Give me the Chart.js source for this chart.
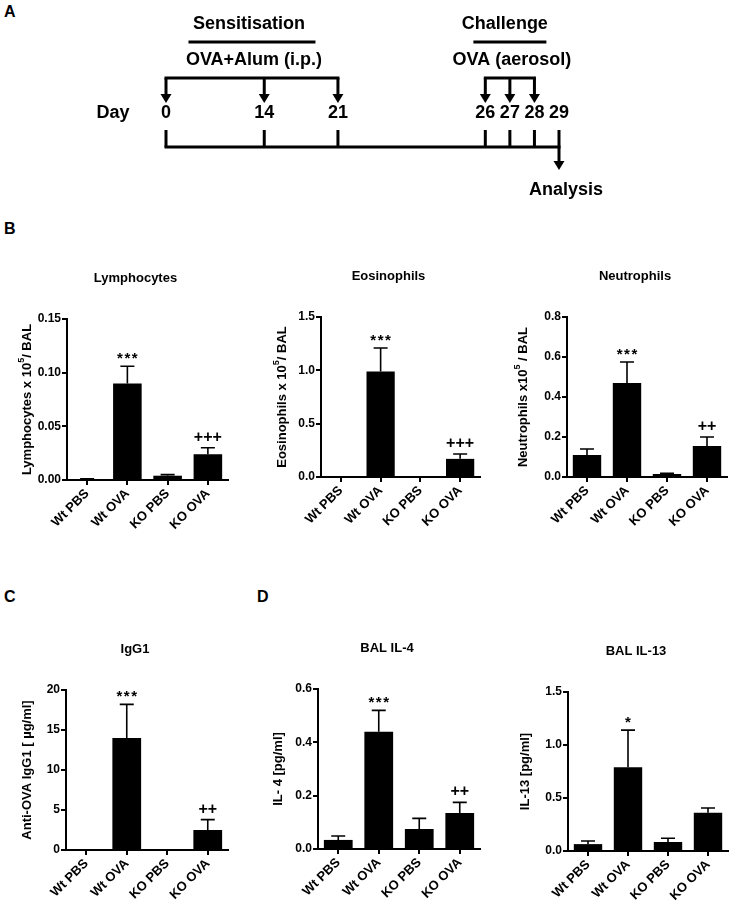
<!DOCTYPE html>
<html><head><meta charset="utf-8">
<script src="https://cdn.jsdelivr.net/npm/chart.js@4"></script>
<style>
html,body{margin:0;padding:0;background:#fff;}
#page{position:relative;width:732px;height:908px;overflow:hidden;background:#fff;}
canvas{position:absolute;}
.lab{position:absolute;font:bold 16px 'Liberation Sans',Arial,sans-serif;line-height:16px;color:#000;}
</style></head><body>
<div id="page">
<div class="lab" style="left:4px;top:4px">A</div>
<div class="lab" style="left:4px;top:221px">B</div>
<div class="lab" style="left:4px;top:589px">C</div>
<div class="lab" style="left:257px;top:589px">D</div>
<canvas id="timeline"></canvas>
<canvas id="lymph"></canvas>
<canvas id="eos"></canvas>
<canvas id="neut"></canvas>
<canvas id="igg"></canvas>
<canvas id="il4"></canvas>
<canvas id="il13"></canvas>
</div>
<script>
const FONT = "'Liberation Sans', Arial, Helvetica, sans-serif";

// ---------- Panel A data ----------
const timelineLabels = ['0','','','','14','','','21','','','','','','26','27','28','29'];
const sensitisationDays = ['0','14','21'];
const challengeDays = ['26','27','28'];
const analysisDay = '29';

// ---------- Panels B-D data ----------
const groups = ['Wt PBS','Wt OVA','KO PBS','KO OVA'];

const lymphMean  = [0.0008, 0.090, 0.004, 0.024];
const lymphSem   = [0.0003, 0.016, 0.001, 0.006];
const lymphMarks = ['', '***', '', '+++'];
const lymphTicks = ['0.00','0.05','0.10','0.15'];

const eosMean  = [0, 0.99, 0, 0.17];
const eosSem   = [0, 0.22, 0, 0.045];
const eosMarks = ['', '***', '', '+++'];
const eosTicks = ['0.0','0.5','1.0','1.5'];

const neutMean  = [0.11, 0.47, 0.015, 0.155];
const neutSem   = [0.03, 0.105, 0.003, 0.045];
const neutMarks = ['', '***', '', '++'];
const neutTicks = ['0.0','0.2','0.4','0.6','0.8'];

const iggMean  = [0, 14.0, 0, 2.5];
const iggSem   = [0, 4.2, 0, 1.3];
const iggMarks = ['', '***', '', '++'];
const iggTicks = ['0','5','10','15','20'];

const il4Mean  = [0.034, 0.44, 0.075, 0.135];
const il4Sem   = [0.015, 0.08, 0.04, 0.04];
const il4Marks = ['', '***', '', '++'];
const il4Ticks = ['0.0','0.2','0.4','0.6'];

const il13Mean  = [0.065, 0.79, 0.085, 0.36];
const il13Sem   = [0.03, 0.35, 0.035, 0.045];
const il13Marks = ['', '*', '', ''];
const il13Ticks = ['0.0','0.5','1.0','1.5'];

// ---------- Panel A : timeline ----------
(function(){
  const cv = document.getElementById('timeline');
  cv.width = 732; cv.height = 215;
  cv.style.left = '0px'; cv.style.top = '0px';
  const headers = [
    {days: sensitisationDays, title: 'Sensitisation', route: 'OVA+Alum (i.p.)', rule: 127, dx: -3},
    {days: challengeDays, title: 'Challenge', route: 'OVA (aerosol)', rule: 73, dx: -5}
  ];
  const big = 'bold 18px ' + FONT;
  function arrowHead(ctx, x, tipY){
    ctx.beginPath();
    ctx.moveTo(x - 5.5, tipY - 9);
    ctx.lineTo(x + 5.5, tipY - 9);
    ctx.lineTo(x, tipY);
    ctx.closePath();
    ctx.fill();
  }
  const timelinePlugin = {
    id: 'timelineDraw',
    afterDatasetsDraw(chart){
      const ctx = chart.ctx, xs = chart.scales.x, ys = chart.scales.y;
      const base = ys.getPixelForValue(0);
      const px = d => xs.getPixelForValue(timelineLabels.indexOf(d));
      ctx.save();
      ctx.strokeStyle = '#000'; ctx.fillStyle = '#000'; ctx.lineWidth = 3;
      ctx.font = big; ctx.textAlign = 'center'; ctx.textBaseline = 'middle';
      timelineLabels.forEach((l, i) => {
        if (!l) return;
        const x = xs.getPixelForValue(i);
        ctx.beginPath();
        ctx.moveTo(x, base - 17);
        ctx.lineTo(x, l === analysisDay ? base + 14 : base);
        ctx.stroke();
        if (l === analysisDay) arrowHead(ctx, x, base + 23);
        ctx.fillText(l, x, base - 34);
      });
      ctx.fillText('Day', px(timelineLabels[0]) - 53, base - 34);
      ctx.fillText('Analysis', px(analysisDay) + 7, base + 43);
      headers.forEach(h => {
        const xp = h.days.map(px);
        const yb = base - 69;
        ctx.beginPath();
        ctx.lineCap = 'square';
        ctx.moveTo(xp[0], yb); ctx.lineTo(xp[xp.length-1], yb);
        ctx.stroke();
        ctx.lineCap = 'butt';
        xp.forEach(x => {
          ctx.beginPath(); ctx.moveTo(x, yb); ctx.lineTo(x, base - 52); ctx.stroke();
          arrowHead(ctx, x, base - 44);
        });
        const mid = (xp[0] + xp[xp.length-1]) / 2;
        ctx.fillText(h.title, mid + h.dx, base - 123);
        ctx.beginPath();
        ctx.moveTo(mid - h.rule/2, base - 105); ctx.lineTo(mid + h.rule/2, base - 105);
        ctx.stroke();
        ctx.fillText(h.route, mid + 2, base - 87);
      });
      ctx.restore();
    }
  };
  new Chart(cv, {
    type: 'line',
    data: {
      labels: timelineLabels,
      datasets: [{
        data: timelineLabels.map(l => l ? 0 : null),
        spanGaps: true, borderColor: '#000', borderWidth: 3,
        pointRadius: 0, clip: false, borderCapStyle: 'square', tension: 0
      }]
    },
    options: {
      responsive: false, animation: false, devicePixelRatio: 1,
      layout: {padding: {left: 166, right: 173, top: 0, bottom: 68}},
      plugins: {legend: {display: false}, tooltip: {enabled: false}},
      scales: {
        x: {type: 'category', display: false, offset: false},
        y: {display: false, min: 0, max: 1}
      }
    },
    plugins: [timelinePlugin]
  });
})();

// ---------- Bar charts ----------
function barChart(spec){
  const L = spec.layout;
  const padTop = 60, xH = 55, yW = 62;
  const cv = document.getElementById(spec.id);
  cv.width = yW + L.areaW + L.right;
  cv.height = padTop + L.areaH + xH;
  cv.style.left = (L.areaLeft - yW) + 'px';
  cv.style.top = (L.areaTop - padTop) + 'px';
  const max = parseFloat(spec.ticks[spec.ticks.length - 1]);
  const step = parseFloat(spec.ticks[1]);
  const yTickFont = {family: FONT, size: 12, weight: 'bold'};
  const xTickFont = {family: FONT, size: 13, weight: 'bold'};

  const annot = {
    id: 'annot',
    afterDatasetsDraw(chart){
      const ctx = chart.ctx, ys = chart.scales.y, area = chart.chartArea;
      const meta = chart.getDatasetMeta(0);
      ctx.save();
      ctx.strokeStyle = '#000'; ctx.fillStyle = '#000'; ctx.lineWidth = 1.6;
      spec.mean.forEach((v, i) => {
        const x = meta.data[i].x;
        const e = spec.sem[i];
        const yTop = ys.getPixelForValue(v + e);
        if (e > 0) {
          ctx.beginPath();
          ctx.moveTo(x, ys.getPixelForValue(v)); ctx.lineTo(x, yTop);
          ctx.moveTo(x - 7, yTop); ctx.lineTo(x + 7, yTop);
          ctx.stroke();
        }
        const m = spec.marks[i];
        if (m) {
          ctx.textAlign = 'center'; ctx.textBaseline = 'alphabetic';
          if (m[0] === '*') {
            ctx.font = 'bold 15px ' + FONT;
            ctx.letterSpacing = '1.5px';
            ctx.fillText(m, x + 0.75, yTop - 3);
            ctx.letterSpacing = '0px';
          } else {
            ctx.font = 'bold 16px ' + FONT;
            ctx.fillText(m, x, yTop - 6);
          }
        }
      });
      ctx.font = 'bold 13px ' + FONT;
      ctx.textAlign = 'center'; ctx.textBaseline = 'middle';
      ctx.fillText(spec.title, (area.left + area.right)/2 - 12, area.top - 41);
      const parts = spec.ylabel.split('^');
      const fonts = parts.map((p, k) => k % 2 ? 'bold 9px ' + FONT : 'bold 13px ' + FONT);
      let total = 0;
      const widths = parts.map((p, k) => { ctx.font = fonts[k]; const w = ctx.measureText(p).width; total += w; return w; });
      ctx.translate(area.left - L.ylabOff, (area.top + area.bottom)/2);
      ctx.rotate(-Math.PI/2);
      ctx.textAlign = 'left';
      let pos = -total/2;
      parts.forEach((p, k) => {
        ctx.font = fonts[k];
        ctx.fillText(p, pos, k % 2 ? -5 : 0);
        pos += widths[k];
      });
      ctx.restore();
    }
  };

  new Chart(cv, {
    type: 'bar',
    data: {
      labels: groups,
      datasets: [{data: spec.mean, backgroundColor: '#000', borderWidth: 0,
                  barPercentage: 0.71, categoryPercentage: 1}]
    },
    options: {
      responsive: false, animation: false, devicePixelRatio: 1,
      layout: {padding: {top: padTop, right: L.right, left: 0, bottom: 0}},
      plugins: {legend: {display: false}, tooltip: {enabled: false}, title: {display: false}},
      scales: {
        x: {
          grid: {offset: false, drawOnChartArea: false, color: '#000', lineWidth: 2, tickLength: 5},
          border: {color: '#000', width: 2},
          ticks: {color: '#000', font: xTickFont, minRotation: 45, maxRotation: 45, autoSkip: false, padding: 1},
          afterFit: s => { s.height = xH; }
        },
        y: {
          min: 0, max: max,
          grid: {drawOnChartArea: false, color: '#000', lineWidth: 2, tickLength: 5},
          border: {color: '#000', width: 2},
          ticks: {
            stepSize: step, color: '#000', font: yTickFont, padding: 1,
            callback: v => { const t = spec.ticks.find(s => Math.abs(parseFloat(s) - v) < step/100); return t === undefined ? '' : t; }
          },
          afterFit: s => { s.width = yW; }
        }
      }
    },
    plugins: [annot]
  });
}

barChart({id: 'lymph', title: 'Lymphocytes', ylabel: 'Lymphocytes x 10^5^/ BAL',
  mean: lymphMean, sem: lymphSem, marks: lymphMarks, ticks: lymphTicks,
  layout: {areaLeft: 67, areaTop: 319, areaW: 161, areaH: 161, right: 6, ylabOff: 40}});
barChart({id: 'eos', title: 'Eosinophils', ylabel: 'Eosinophils x 10^5^/ BAL',
  mean: eosMean, sem: eosSem, marks: eosMarks, ticks: eosTicks,
  layout: {areaLeft: 321, areaTop: 317, areaW: 159, areaH: 160, right: 6, ylabOff: 39}});
barChart({id: 'neut', title: 'Neutrophils', ylabel: 'Neutrophils x10^5^ / BAL',
  mean: neutMean, sem: neutSem, marks: neutMarks, ticks: neutTicks,
  layout: {areaLeft: 567, areaTop: 317, areaW: 160, areaH: 160, right: 5, ylabOff: 44}});
barChart({id: 'igg', title: 'IgG1', ylabel: 'Anti-OVA IgG1 [ \u00b5g/ml]',
  mean: iggMean, sem: iggSem, marks: iggMarks, ticks: iggTicks,
  layout: {areaLeft: 66, areaTop: 690, areaW: 162, areaH: 160, right: 6, ylabOff: 39}});
barChart({id: 'il4', title: 'BAL IL-4', ylabel: 'IL- 4 [pg/ml]',
  mean: il4Mean, sem: il4Sem, marks: il4Marks, ticks: il4Ticks,
  layout: {areaLeft: 318, areaTop: 689, areaW: 162, areaH: 160, right: 6, ylabOff: 40}});
barChart({id: 'il13', title: 'BAL IL-13', ylabel: 'IL-13 [pg/ml]',
  mean: il13Mean, sem: il13Sem, marks: il13Marks, ticks: il13Ticks,
  layout: {areaLeft: 568, areaTop: 692, areaW: 160, areaH: 159, right: 4, ylabOff: 43}});
</script>
</body></html>
